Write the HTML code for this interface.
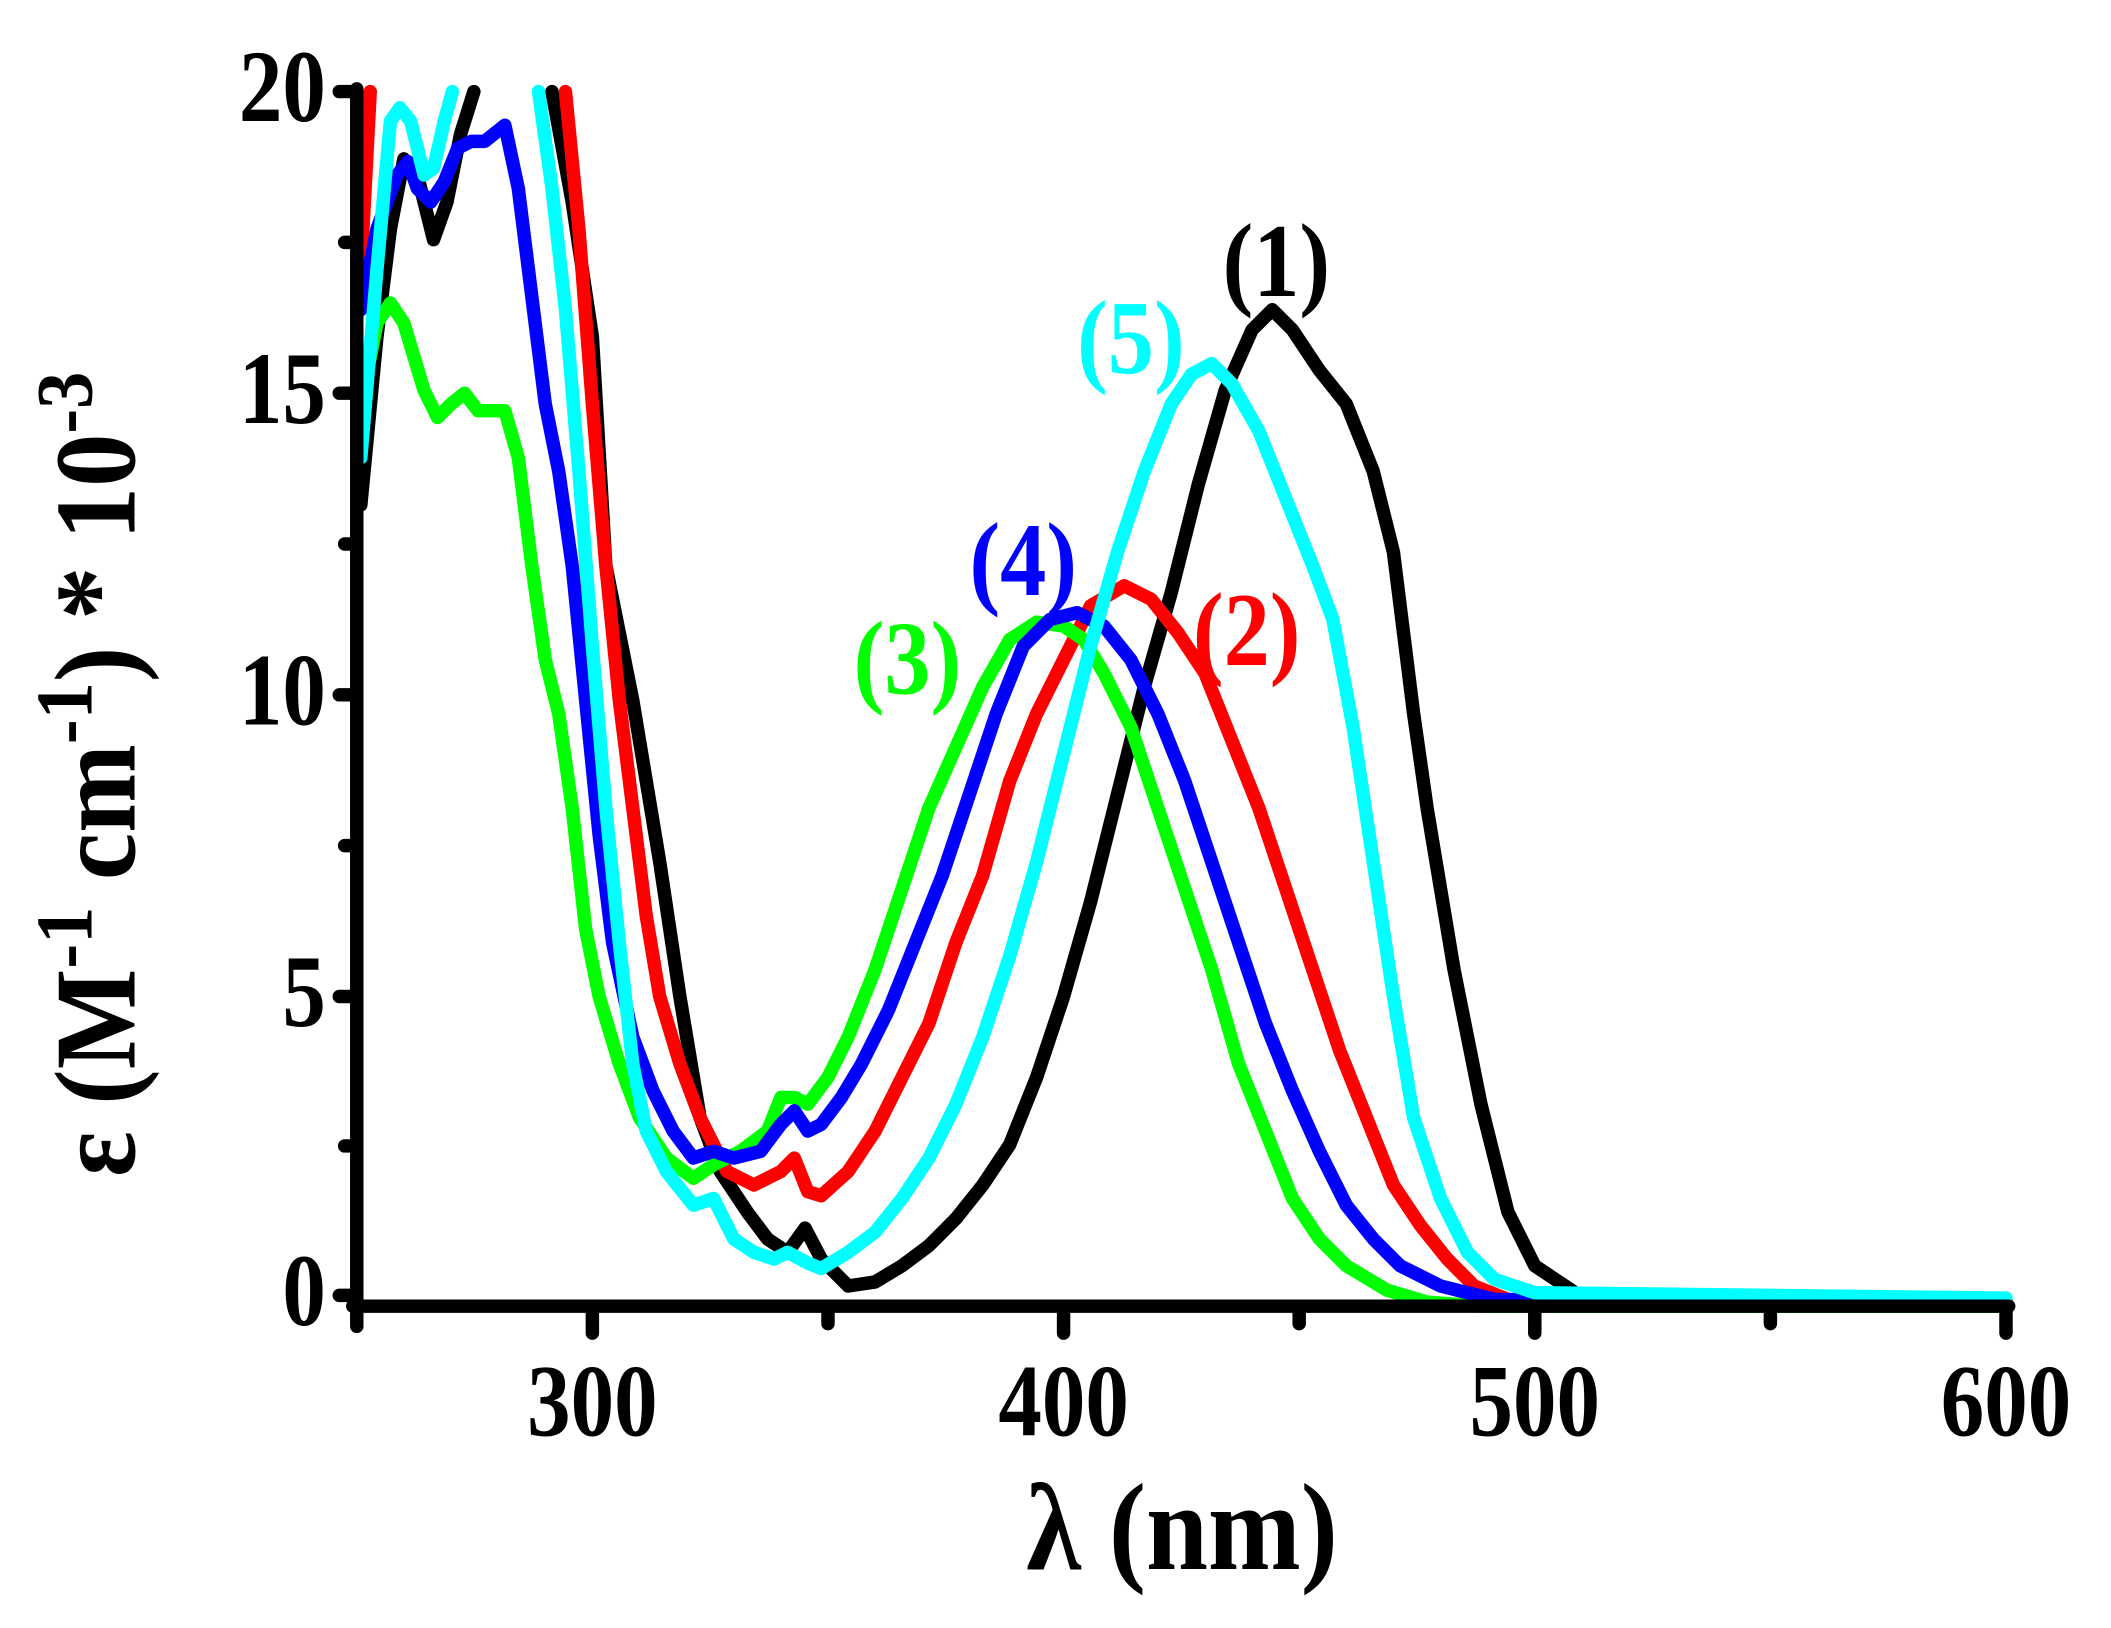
<!DOCTYPE html>
<html><head><meta charset="utf-8"><style>
html,body{margin:0;padding:0;background:#fff;}
svg{display:block;}
text{font-family:"Liberation Serif","Times New Roman",serif;font-weight:bold;}
</style></head><body>
<svg width="2111" height="1628" viewBox="0 0 1568 1209" preserveAspectRatio="none" xmlns="http://www.w3.org/2000/svg">
<g fill="none" stroke-linejoin="round" stroke-linecap="round" stroke-width="10">
<polyline stroke="#000" points="268,375 280,250 290,170 300,118 310,130 322,178 332,150 342,100 352,68"/>
<polyline stroke="#000" points="410,68 425,150 440,250 450,420 470,520 490,640 505,740 520,830 535,870 555,900 570,920 585,930 598,912 610,935 630,955 650,952 670,940 690,925 710,905 730,880 750,850 770,800 790,740 810,670 830,590 850,510 870,440 890,360 910,290 930,245 945,230 960,245 980,275 1000,300 1020,350 1035,410 1050,530 1060,600 1080,720 1100,820 1120,900 1140,940 1170,960 1200,965 1490,966"/>
<polyline stroke="#f00" points="268,200 275,68"/>
<polyline stroke="#f00" points="420,68 430,170 440,300 450,420 460,520 470,600 480,680 490,740 505,790 520,830 540,870 560,880 580,870 590,860 600,885 610,888 630,870 650,840 670,800 690,760 710,700 730,650 750,580 770,530 790,490 810,450 835,435 855,445 875,470 895,500 915,550 935,600 955,660 975,720 995,780 1015,830 1035,880 1055,910 1075,935 1095,955 1120,965 1490,968"/>
<polyline stroke="#0f0" points="268,300 280,240 290,225 300,240 315,290 325,310 335,300 345,292 355,305 375,305 385,340 395,420 405,490 415,530 425,600 435,690 445,740 460,790 475,830 495,860 515,875 530,865 550,855 570,840 580,815 590,815 600,820 615,800 630,770 650,720 670,660 690,600 710,555 730,510 750,475 770,462 790,465 805,475 820,500 840,540 860,600 880,660 900,720 920,790 940,840 960,890 980,920 1000,940 1030,958 1060,967 1100,970 1490,970"/>
<polyline stroke="#00f" points="268,230 280,170 295,130 303,120 310,140 320,150 330,135 340,110 350,105 360,105 375,93 385,140 395,220 405,300 415,350 425,420 435,520 445,620 455,700 470,770 485,810 500,840 515,860 530,855 545,860 565,855 580,835 590,825 600,840 610,835 625,815 640,790 660,750 680,700 700,650 720,590 740,530 760,480 780,460 800,455 820,465 840,490 860,530 880,580 900,640 920,700 940,760 960,810 980,855 1000,895 1020,920 1040,940 1070,955 1110,965 1490,968"/>
<polyline stroke="#0ff" points="268,340 280,200 290,90 297,80 305,90 315,130 322,125 330,90 336,68"/>
<polyline stroke="#0ff" points="400,68 410,140 420,230 430,350 440,480 450,600 460,700 470,790 480,840 495,870 515,895 530,890 545,920 560,930 575,935 585,930 600,938 610,942 630,930 650,915 670,890 690,860 710,820 730,770 750,710 770,640 790,560 810,480 830,410 850,350 870,300 885,278 900,270 915,285 935,320 955,370 975,420 990,460 1005,540 1020,640 1035,740 1050,830 1070,890 1090,930 1110,950 1140,960 1490,964"/>
</g>
<g stroke="#000" stroke-width="10" stroke-linecap="round" fill="none">
<line x1="265" y1="66" x2="265" y2="972"/>
<line x1="262" y1="970" x2="1492" y2="970"/>
<line x1="252" y1="68" x2="265" y2="68"/>
<line x1="256" y1="180" x2="265" y2="180"/>
<line x1="252" y1="292" x2="265" y2="292"/>
<line x1="256" y1="404" x2="265" y2="404"/>
<line x1="252" y1="516" x2="265" y2="516"/>
<line x1="256" y1="628" x2="265" y2="628"/>
<line x1="252" y1="740" x2="265" y2="740"/>
<line x1="256" y1="851" x2="265" y2="851"/>
<line x1="252" y1="962" x2="265" y2="962"/>
<line x1="265" y1="970" x2="265" y2="985"/>
<line x1="440" y1="970" x2="440" y2="990"/>
<line x1="615" y1="970" x2="615" y2="983"/>
<line x1="790" y1="970" x2="790" y2="990"/>
<line x1="965" y1="970" x2="965" y2="983"/>
<line x1="1140" y1="970" x2="1140" y2="990"/>
<line x1="1315" y1="970" x2="1315" y2="983"/>
<line x1="1490" y1="970" x2="1490" y2="990"/>
</g>
<g font-size="76" text-anchor="end" fill="#000">
<text transform="translate(242,90) scale(0.85,1)">20</text>
<text transform="translate(242,314) scale(0.85,1)">15</text>
<text transform="translate(242,538) scale(0.85,1)">10</text>
<text transform="translate(242,762) scale(0.85,1)">5</text>
<text transform="translate(242,984) scale(0.85,1)">0</text>
</g>
<g font-size="76" text-anchor="middle" fill="#000">
<text transform="translate(440,1066) scale(0.85,1)">300</text>
<text transform="translate(790,1066) scale(0.85,1)">400</text>
<text transform="translate(1140,1066) scale(0.85,1)">500</text>
<text transform="translate(1490,1066) scale(0.85,1)">600</text>
</g>
<text transform="translate(878,1165) scale(0.9,1)" font-size="92" text-anchor="middle" fill="#000">λ (nm)</text>
<text transform="translate(100,575) rotate(-90) scale(0.92,1)" font-size="86" text-anchor="middle" fill="#000">ε (M<tspan dy="-32" font-size="60">-1</tspan><tspan dy="32"> cm</tspan><tspan dy="-32" font-size="60">-1</tspan><tspan dy="32">) * 10</tspan><tspan dy="-32" font-size="60">-3</tspan></text>
<g font-size="78">
<text transform="translate(908,220) scale(0.88,1)" fill="#000">(1)</text>
<text transform="translate(886,494) scale(0.88,1)" fill="#f00">(2)</text>
<text transform="translate(634,515) scale(0.88,1)" fill="#0f0">(3)</text>
<text transform="translate(720,442) scale(0.88,1)" fill="#00f">(4)</text>
<text transform="translate(800,277) scale(0.88,1)" fill="#0ff">(5)</text>
</g>
</svg>
</body></html>
